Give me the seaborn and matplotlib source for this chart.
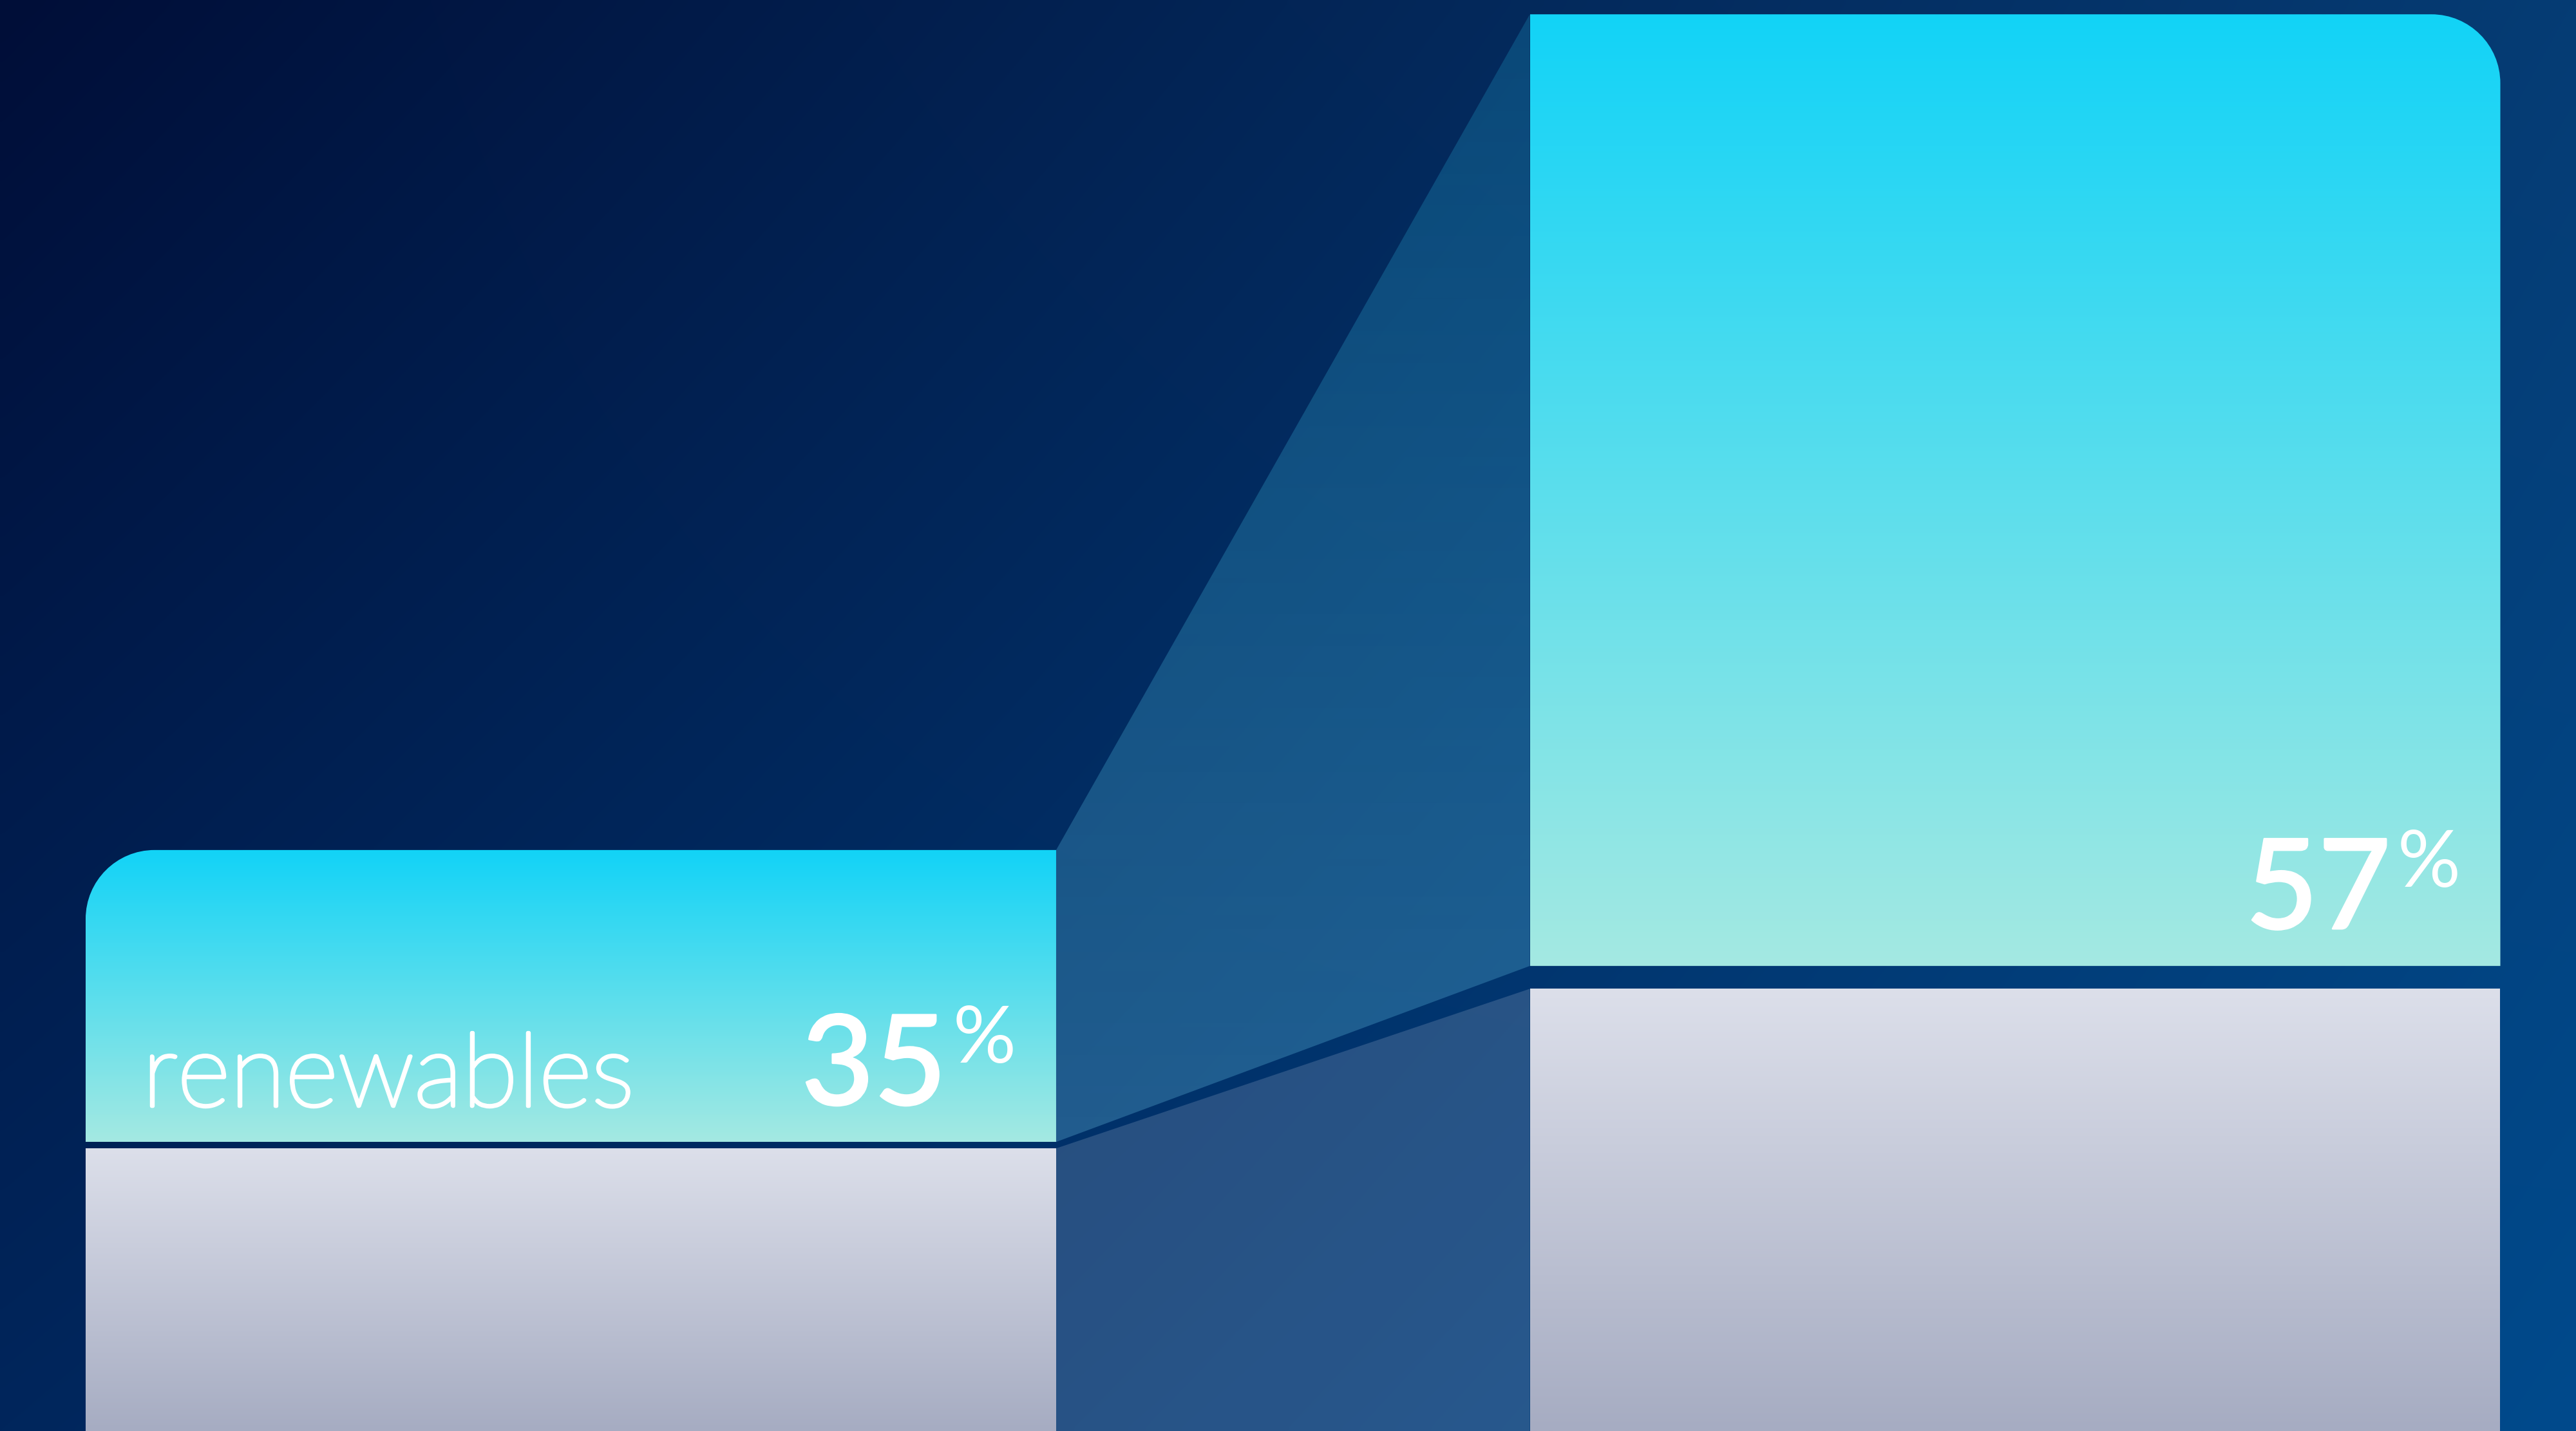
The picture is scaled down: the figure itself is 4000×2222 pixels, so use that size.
import numpy as np
import pandas as pd
import matplotlib.pyplot as plt
import seaborn as sns
from matplotlib.path import Path
from matplotlib.patches import PathPatch
from matplotlib.colors import to_rgb
import matplotlib.patheffects as pe

# data (y in display units, 0 = bottom edge of picture, 100 = top edge)
stages = ["current", "future"]
renewables_share = [35, 57]
label_text = "renewables"
cyan_top = [40.6, 99.0]
cyan_base = [20.2, 32.5]
grey_top = [19.75, 30.9]

sns.set_style("white")
plt.rcParams["font.family"] = ["Lato", "DejaVu Sans"]

W, H, DPI = 4000, 2222, 100
fig = plt.figure(figsize=(W / DPI, H / DPI), dpi=DPI)
ax = fig.add_axes([0, 0, 1, 1])

df = pd.DataFrame({"stage": stages, "grey": grey_top, "cyan": cyan_top})

# grey lower blocks, from the axis bottom
n0 = len(ax.patches)
sns.barplot(data=df, x="stage", y="grey", color="#cfd3e0", width=0.672, ax=ax)
grey_bars = ax.patches[n0:]
# cyan renewables blocks
n1 = len(ax.patches)
sns.barplot(data=df, x="stage", y="cyan", color="#12d3f7", width=0.672, ax=ax)
cyan_bars = ax.patches[n1:]
for p, b in zip(cyan_bars, cyan_base):
    p.set_height(p.get_y() + p.get_height() - b)
    p.set_y(b)

ax.set_xlim(-0.3953, 1.3884)
ax.set_ylim(0, 100)
ax.axis("off")

# background gradient (bilinear over the 4 corners), row 0 = top
tl, tr = np.array([0, 14, 56]) / 255, np.array([6, 60, 116]) / 255
bl, br = np.array([0, 38, 92]) / 255, np.array([0, 74, 140]) / 255
u = np.linspace(0, 1, 400)[None, :, None]
v = np.linspace(0, 1, 222)[:, None, None]
bg = tl * (1 - u) * (1 - v) + tr * u * (1 - v) + bl * (1 - u) * v + br * u * v
ax.imshow(bg, extent=[*ax.get_xlim(), *ax.get_ylim()], aspect="auto",
          origin="upper", zorder=0, interpolation="bicubic")

xl = ax.get_xlim()
px_x = W / (xl[1] - xl[0])
px_y = H / 100
r_px = 107
rx, ry = r_px / px_x, r_px / px_y
k = 0.5523


def bar_path(x0, x1, y0, y1, corner=None):
    if corner == "left":
        verts = [(x0, y0), (x0, y1 - ry), (x0, y1 - ry + k * ry),
                 (x0 + rx - k * rx, y1), (x0 + rx, y1), (x1, y1), (x1, y0), (x0, y0)]
        codes = [Path.MOVETO, Path.LINETO, Path.CURVE4, Path.CURVE4, Path.CURVE4,
                 Path.LINETO, Path.LINETO, Path.CLOSEPOLY]
    elif corner == "right":
        verts = [(x0, y0), (x0, y1), (x1 - rx, y1), (x1 - rx + k * rx, y1),
                 (x1, y1 - ry + k * ry), (x1, y1 - ry), (x1, y0), (x0, y0)]
        codes = [Path.MOVETO, Path.LINETO, Path.LINETO, Path.CURVE4, Path.CURVE4,
                 Path.CURVE4, Path.LINETO, Path.CLOSEPOLY]
    else:
        verts = [(x0, y0), (x0, y1), (x1, y1), (x1, y0), (x0, y0)]
        codes = [Path.MOVETO, Path.LINETO, Path.LINETO, Path.LINETO, Path.CLOSEPOLY]
    return Path(verts, codes)


def grad_img(path, x0, x1, y0, y1, c_bottom, c_top, a_bottom=1.0, a_top=1.0, z=2):
    t = np.linspace(0, 1, 256)[:, None, None]
    rgb = np.array(to_rgb(c_bottom)) * (1 - t) + np.array(to_rgb(c_top)) * t
    alpha = a_bottom * (1 - t) + a_top * t
    img = np.concatenate([rgb, alpha], axis=2)
    patch = PathPatch(path, facecolor="none", edgecolor="none",
                      transform=ax.transData, zorder=z)
    ax.add_patch(patch)
    im = ax.imshow(img, extent=[x0, x1, y0, y1], aspect="auto", origin="lower",
                   zorder=z, interpolation="bilinear")
    im.set_clip_path(patch)


corners = ["left", "right"]
gb, cb = [], []
for i in range(len(stages)):
    g, c = grey_bars[i], cyan_bars[i]
    g.set_visible(False)
    c.set_visible(False)
    gb.append((g.get_x(), g.get_x() + g.get_width(), g.get_y(), g.get_y() + g.get_height()))
    cb.append((c.get_x(), c.get_x() + c.get_width(), c.get_y(), c.get_y() + c.get_height()))
    grad_img(bar_path(*gb[-1]), *gb[-1], "#a6acc2", "#dcdfea")
    grad_img(bar_path(*cb[-1], corner=corners[i]), *cb[-1], "#a4e9e2", "#12d3f7")

# connector between the two bars
up = Path([(cb[0][1], cb[0][3]), (cb[1][0], cb[1][3]), (cb[1][0], cb[1][2]),
           (cb[0][1], cb[0][2]), (cb[0][1], cb[0][3])], closed=True)
grad_img(up, cb[0][1], cb[1][0], min(cb[0][2], cb[1][2]), max(cb[0][3], cb[1][3]),
         "#64b4d8", "#28c8f0", a_bottom=0.34, a_top=0.2, z=1)
ax.fill([gb[0][1], gb[1][0], gb[1][0], gb[0][1]],
        [gb[0][3], gb[1][3], gb[1][2], gb[0][2]],
        color="#c8cde1", alpha=0.2, lw=0, zorder=1)

# labels
ax.text(cb[0][0] + 88 / px_x, cb[0][2] + 2.5, label_text, color="white",
        fontsize=114, fontweight="light", ha="left", va="baseline", zorder=3,
        path_effects=[pe.withStroke(linewidth=4, foreground="white")])
for i, val in enumerate(renewables_share):
    xr = cb[i][1] - 170 / px_x
    yb = cb[i][2] + 2.6
    ax.text(xr, yb, f"{val}", color="white", fontsize=140, fontweight="medium",
            ha="right", va="baseline", zorder=3,
            path_effects=[pe.withStroke(linewidth=2, foreground="white")])
    ax.text(xr + 10 / px_x, yb + 2.95, "%", color="white", fontsize=88,
            fontweight="normal", ha="left", va="baseline", zorder=3)

fig.savefig("out.png", dpi=DPI)
